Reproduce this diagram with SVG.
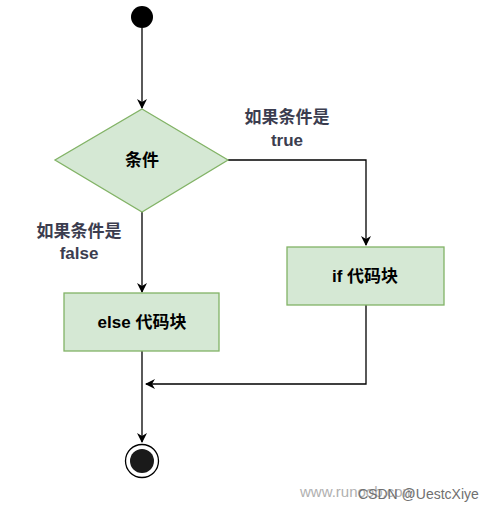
<svg xmlns="http://www.w3.org/2000/svg" width="492" height="513" viewBox="0 0 492 513">
<style>
.node{fill:#d5e8d4;stroke:#82b366;stroke-width:1.3}
.lbl{font-family:"Liberation Sans","Noto Sans CJK SC",sans-serif;font-weight:bold;font-size:17px;text-anchor:middle;fill:#000}
.edge{font-family:"Liberation Sans","Noto Sans CJK SC",sans-serif;font-weight:bold;font-size:17px;text-anchor:middle;fill:#3b3d4f}
.conn{fill:none;stroke:#000;stroke-width:1.3}
.wm{font-family:"Liberation Sans",sans-serif}
</style>
<defs>
<marker id="arr" viewBox="0 0 10 10" refX="9" refY="5" markerWidth="10" markerHeight="10" markerUnits="userSpaceOnUse" orient="auto">
<path d="M0,0 L10,5 L0,10 L3,5 Z" fill="#000"/>
</marker>
</defs>
<g id="connectors">
<path class="conn" d="M142,28 V108" marker-end="url(#arr)"/>
<path class="conn" d="M228,160 H366 V245" marker-end="url(#arr)"/>
<path class="conn" d="M142,212 V292" marker-end="url(#arr)"/>
<path class="conn" d="M142,351 V442" marker-end="url(#arr)"/>
<path class="conn" d="M366,305 V384 H146" marker-end="url(#arr)"/>
</g>
<g id="start"><circle cx="142" cy="17" r="11" fill="#000"/></g>
<g id="cond"><polygon class="node" points="142,109 228,160 142,212 55,160"/><text class="lbl" x="142" y="166">条件</text></g>
<g id="ifblock"><rect class="node" x="287" y="247" width="157" height="58"/><text class="lbl" x="365" y="282">if 代码块</text></g>
<g id="elseblock"><rect class="node" x="64" y="293" width="155" height="58"/><text class="lbl" x="142" y="328">else 代码块</text></g>
<g id="end"><circle cx="142" cy="461" r="16.5" fill="#fff" stroke="#000" stroke-width="1.3"/><circle cx="142" cy="461" r="12" fill="#1a1a1a"/></g>
<g id="labels">
<text class="edge" x="287" y="123">如果条件是</text>
<text class="edge" x="287" y="146">true</text>
<text class="edge" x="79" y="237">如果条件是</text>
<text class="edge" x="79" y="259">false</text>
</g>
<text class="wm" x="300" y="497" font-size="15" fill="#b0b0b0">www.runoob.com</text>
<text class="wm" x="358" y="499" font-size="14" fill="#707070">CSDN @UestcXiye</text>
</svg>
